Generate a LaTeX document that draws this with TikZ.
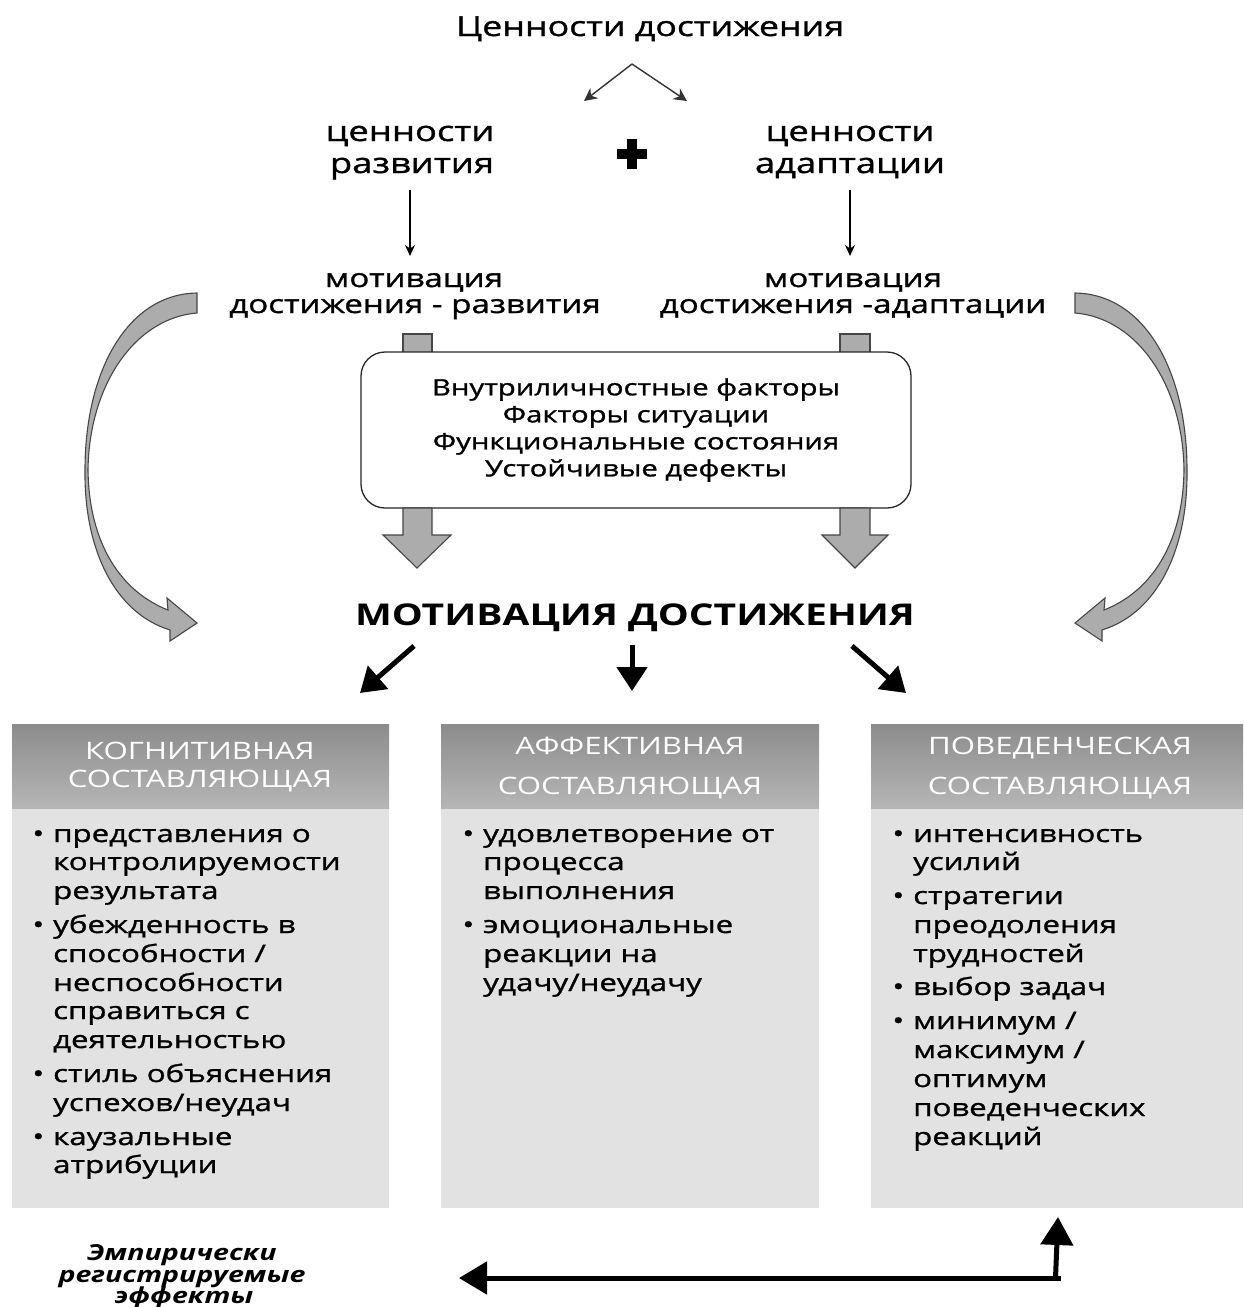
\documentclass[tikz,border=0pt]{standalone}
\usepackage{fontspec}
\setmainfont{Open Sans}[FakeStretch=1.3]
\newfontfamily\semi{Open Sans}[FakeStretch=1.3, FakeBold=1.2]
\usetikzlibrary{arrows.meta}
\definecolor{garrow}{RGB}{172,172,172}
\definecolor{gline}{RGB}{70,70,70}
\definecolor{body}{RGB}{226,226,226}
\definecolor{htop}{RGB}{140,140,140}
\definecolor{hbot}{RGB}{182,182,182}
\newcommand{\fs}[2]{\fontsize{#1}{#2}\selectfont}
\newcommand{\bul}{\makebox[0pt][r]{•\hspace{9pt}}}
\begin{document}
\begin{tikzpicture}[x=1pt,y=-1pt,
  thinarr/.style={-{Stealth[length=11pt,width=10pt]}, line width=1.3pt},
  toparr/.style={-{Stealth[length=13pt,width=13pt]}, line width=1.4pt, black!80},
  blkarr/.style={-{Triangle[length=24pt,width=30pt]}, line width=5pt},
  garr/.style={fill=garrow, draw=gline, line width=1.1pt, line join=miter},
  txt/.style={inner sep=0pt, anchor=base},
  bodytxt/.style={inner sep=0pt, anchor=base west, font=\semi\fs{24}{29}},
  headtxt/.style={inner sep=0pt, anchor=base, font=\fs{24}{28}, text=white},
]
\useasboundingbox (0,0) rectangle (1243,1307);

% ---------- top ----------
\node[txt, font=\semi\fs{27.5}{30}] (title) at (650,36) {Ценности достижения};
\coordinate (apex) at (632,64);
\coordinate (ltip) at (584,101);
\coordinate (rtip) at (687,101);
\draw[toparr] (apex) -- (ltip);
\draw[toparr] (apex) -- (rtip);

\node[txt, font=\semi\fs{28}{32}] (vr1) at (410,141) {ценности};
\node[txt, font=\semi\fs{28}{32}] (vr2) at (412,173) {развития};
\node[txt, font=\semi\fs{28}{32}] (va1) at (850,141) {ценности};
\node[txt, font=\semi\fs{28}{32}] (va2) at (850,173) {адаптации};

\fill (617,149) rectangle (647,159);
\fill (627,139) rectangle (637,169);

\coordinate (a1s) at (410,190);
\coordinate (a1e) at (410,256);
\coordinate (a2s) at (850,190);
\coordinate (a2e) at (850,256);
\draw[thinarr] (a1s) -- (a1e);
\draw[thinarr] (a2s) -- (a2e);

\node[txt, font=\semi\fs{25.5}{28}] (mr1) at (414,287) {мотивация};
\node[txt, font=\semi\fs{25.5}{28}] (mr2) at (415,313) {достижения - развития};
\node[txt, font=\semi\fs{25.5}{28}] (ma1) at (853,287) {мотивация};
\node[txt, font=\semi\fs{25.5}{28}] (ma2) at (853,313) {достижения -адаптации};

% ---------- curved arrows ----------
\filldraw[garr] (197,293) -- (197,313)
  .. controls (135,318) and (89,385) .. (88,470)
  .. controls (89,545) and (122,592) .. (168,610)
  -- (167,598) -- (197,623) -- (170,641) -- (170,630)
  .. controls (115,613) and (84,550) .. (85,470)
  .. controls (85,370) and (128,294) .. (197,293) -- cycle;
\begin{scope}[xshift=1272pt, xscale=-1]
\filldraw[garr] (197,293) -- (197,313)
  .. controls (135,318) and (89,385) .. (88,470)
  .. controls (89,545) and (122,592) .. (168,610)
  -- (167,598) -- (197,623) -- (170,641) -- (170,630)
  .. controls (115,613) and (84,550) .. (85,470)
  .. controls (85,370) and (128,294) .. (197,293) -- cycle;
\end{scope}

% ---------- factor box with block arrows ----------
\filldraw[garr] (403,334) rectangle (432,360);
\filldraw[garr] (840,334) rectangle (870,360);
\node[draw=black!85, line width=1.3pt, fill=white, rounded corners=24pt,
      minimum width=550pt, minimum height=156pt, inner sep=0pt,
      align=center, font=\semi\fs{22.5}{27}] (fbox) at (636,430)
  {Внутриличностные факторы\\Факторы ситуации\\Функциональные состояния\\Устойчивые дефекты};
\filldraw[garr] (403,508) -- (403,535) -- (383,535) -- (417,568) -- (451,535) -- (432,535) -- (432,508) -- cycle;
\filldraw[garr] (840,508) -- (840,535) -- (822,535) -- (855,568) -- (888,535) -- (870,535) -- (870,508) -- cycle;

% ---------- main title ----------
\node[txt, font=\bfseries\fs{30}{34}] (main) at (635,625) {МОТИВАЦИЯ ДОСТИЖЕНИЯ};
\coordinate (b1s) at (414,646);
\coordinate (b1e) at (360,693);
\coordinate (b2s) at (632,645);
\coordinate (b2e) at (632,691);
\coordinate (b3s) at (852,646);
\coordinate (b3e) at (906,693);
\draw[blkarr] (b1s) -- (b1e);
\draw[blkarr] (b2s) -- (b2e);
\draw[blkarr] (b3s) -- (b3e);

% ---------- columns ----------
\foreach \xa/\xb in {12/389, 441/819, 871/1243}{
  \fill[body] (\xa,808) rectangle (\xb,1208);
  \shade[top color=htop, bottom color=hbot] (\xa,724) rectangle (\xb,808);
}
\node[headtxt] (h11) at (200,759) {КОГНИТИВНАЯ};
\node[headtxt] (h12) at (200,787) {СОСТАВЛЯЮЩАЯ};
\node[headtxt] (h21) at (630,754) {АФФЕКТИВНАЯ};
\node[headtxt] (h22) at (630,794) {СОСТАВЛЯЮЩАЯ};
\node[headtxt] (h31) at (1060,754) {ПОВЕДЕНЧЕСКАЯ};
\node[headtxt] (h32) at (1060,794) {СОСТАВЛЯЮЩАЯ};

\foreach \y/\t [count=\i] in {842/{\bul представления о}, 870/{контролируемости}, 899/{результата},
  933/{\bul убежденность в}, 962/{способности /}, 991/{неспособности}, 1019/{справиться с},
  1048/{деятельностью}, 1082/{\bul стиль объяснения}, 1111/{успехов/неудач},
  1145/{\bul каузальные}, 1173/{атрибуции}}
  \node[bodytxt] (L\i) at (53,\y) {\t};

\foreach \y/\t [count=\i] in {842/{\bul удовлетворение от}, 870/{процесса}, 899/{выполнения},
  933/{\bul эмоциональные}, 962/{реакции на}, 991/{удачу/неудачу}}
  \node[bodytxt] (M\i) at (483,\y) {\t};

\foreach \y/\t [count=\i] in {842/{\bul интенсивность}, 870/{усилий}, 904/{\bul стратегии},
  933/{преодоления}, 962/{трудностей}, 995/{\bul выбор задач}, 1029/{\bul минимум /},
  1058/{максимум /}, 1087/{оптимум}, 1116/{поведенческих}, 1145/{реакций}}
  \node[bodytxt] (R\i) at (913,\y) {\t};

% ---------- bottom ----------
\node[txt, font=\bfseries\itshape\fs{22}{22}] (e1) at (182,1260) {Эмпирически};
\node[txt, font=\bfseries\itshape\fs{22}{22}] (e2) at (182,1282) {регистрируемые};
\node[txt, font=\bfseries\itshape\fs{22}{22}] (e3) at (184,1303) {эффекты};
\coordinate (corner) at (1058,1278);
\coordinate (uptip) at (1058,1217);
\coordinate (lefttip) at (459,1278);
\draw[line width=5pt, -{Triangle[length=28pt,width=32pt]}] ([xshift=-2.5pt]corner) -- (uptip);
\draw[line width=5pt, -{Triangle[length=28pt,width=32pt]}] ([xshift=2.5pt]corner) -- (lefttip);
\end{tikzpicture}
\end{document}
